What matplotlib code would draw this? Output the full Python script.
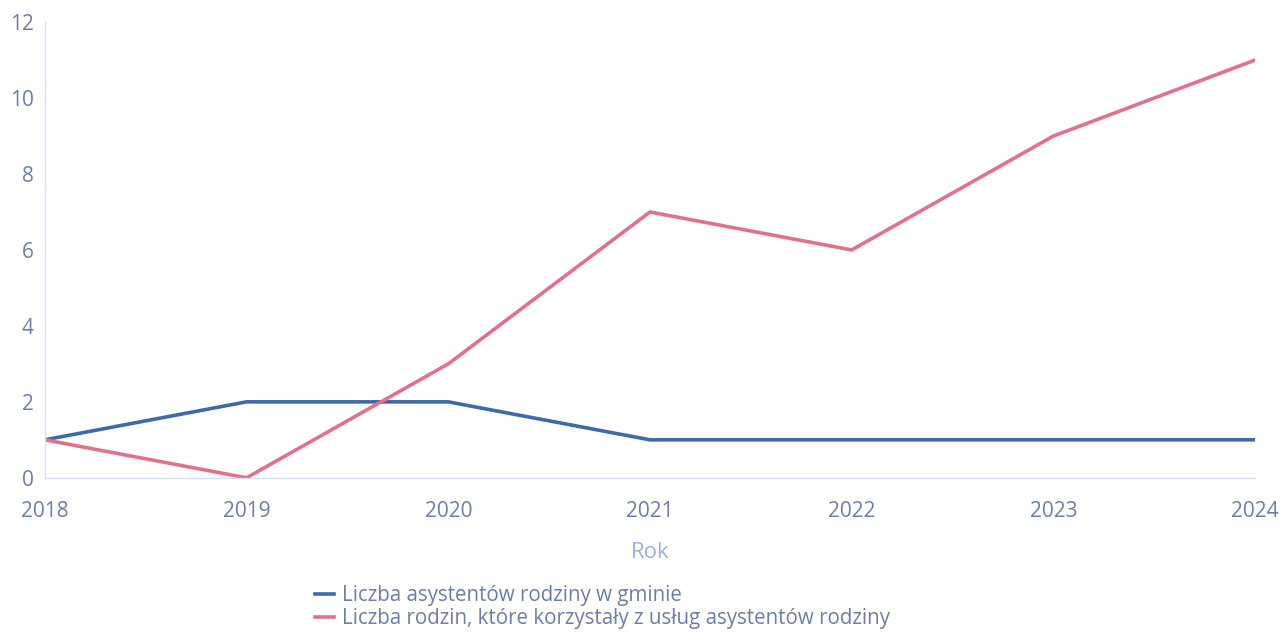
import matplotlib.pyplot as plt

# Data
years = [2018, 2019, 2020, 2021, 2022, 2023, 2024]
asystenci = [1, 2, 2, 1, 1, 1, 1]
rodziny = [1, 0, 3, 7, 6, 9, 11]
labels = ['Liczba asystentów rodziny w gminie',
          'Liczba rodzin, które korzystały z usług asystentów rodziny']

plt.rcParams['font.family'] = ['Open Sans', 'DejaVu Sans']
tick_color = '#6a7fa8'

fig = plt.figure(figsize=(12.82, 6.32), dpi=100)
ax = fig.add_axes([0.035, 0.244, 0.944, 0.721])

ax.plot(years, asystenci, color='#3d6aaa', lw=2.6, label=labels[0])
ax.plot(years, rodziny, color='#e0738a', lw=2.6, label=labels[1])

ax.set_xlim(2018, 2024)
ax.set_ylim(0, 12)
ax.set_yticks(range(0, 13, 2))
ax.set_xticks(years)

for s in ['top', 'right']:
    ax.spines[s].set_visible(False)
for s in ['left', 'bottom']:
    ax.spines[s].set_color('#d6e0f5')
    ax.spines[s].set_linestyle((0, (2, 1)))
    ax.spines[s].set_linewidth(1)

ax.tick_params(length=0, labelcolor=tick_color, labelsize=15)
ax.tick_params(axis='x', pad=17)
ax.tick_params(axis='y', pad=8)

ax.set_xlabel('Rok', color='#9ab0e2', fontsize=16, labelpad=14)

fig.legend(loc='upper left', bbox_to_anchor=(0.246, 0.074),
           frameon=False, fontsize=14.8, labelcolor=tick_color, handlelength=0.9,
           handletextpad=0.4, labelspacing=0.1, borderpad=0, borderaxespad=0)

fig.savefig('out.png', dpi=100)
